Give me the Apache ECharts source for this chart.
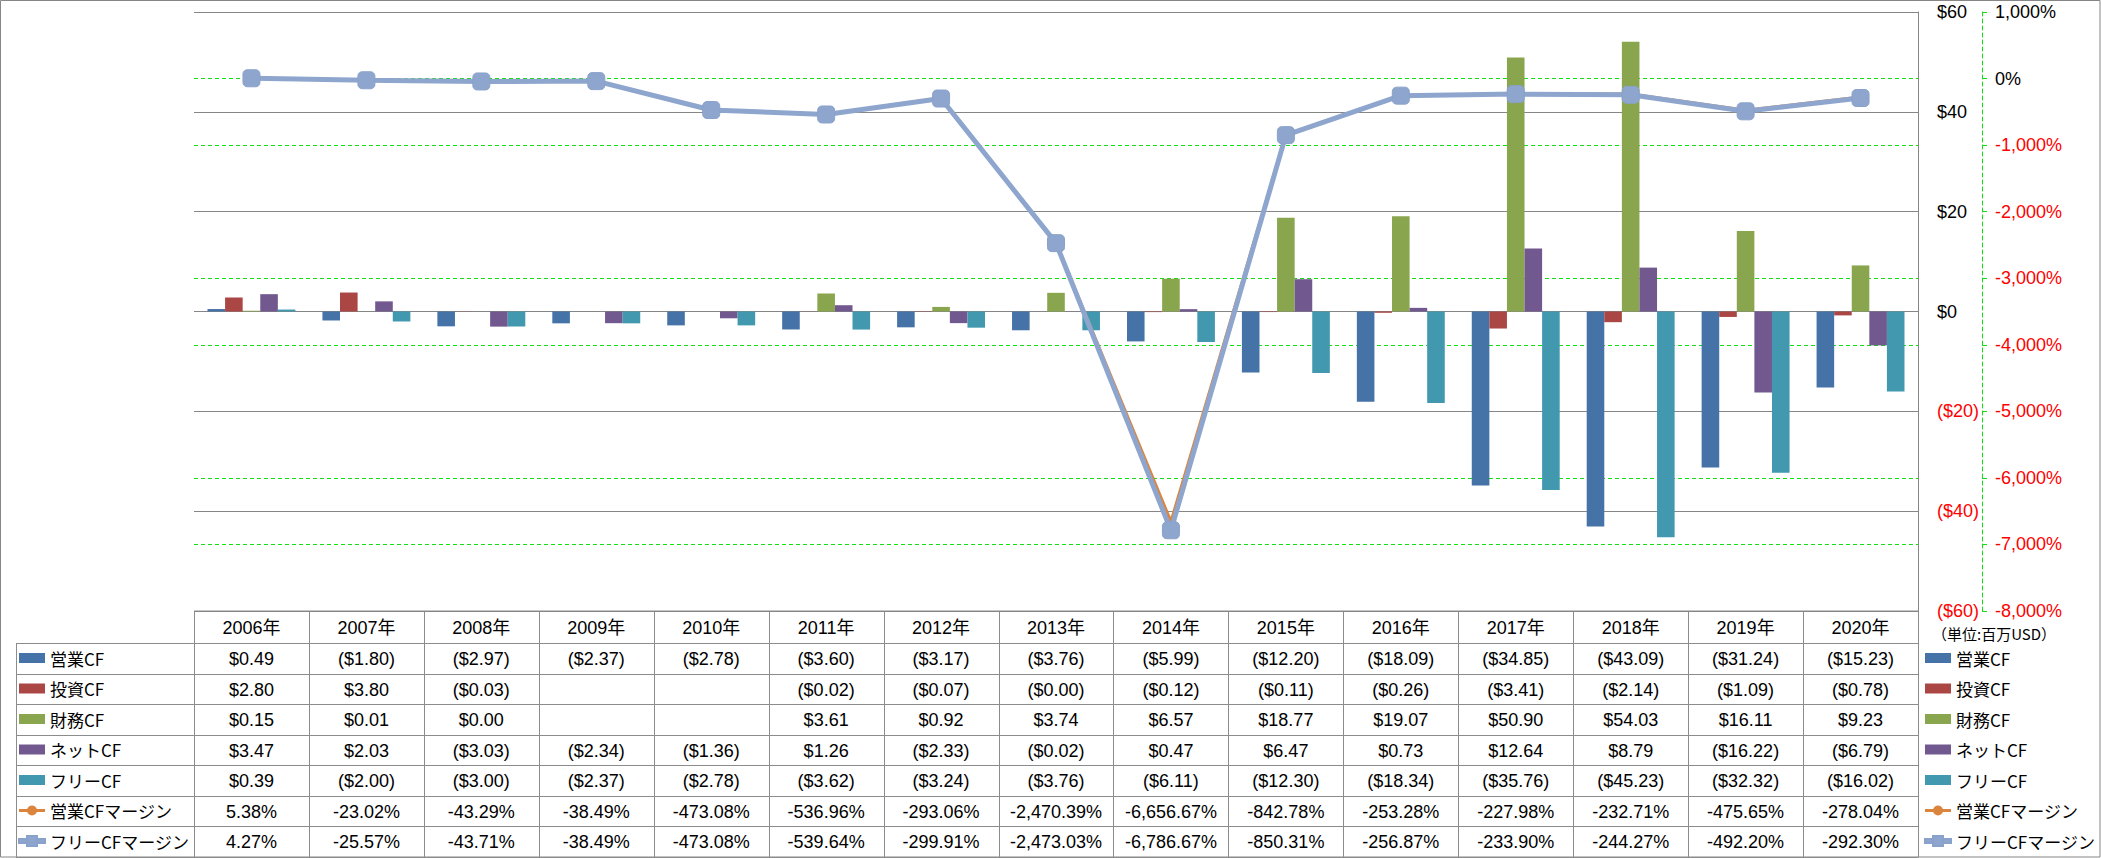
<!DOCTYPE html>
<html><head><meta charset="utf-8">
<script src="https://cdn.jsdelivr.net/npm/echarts@6/dist/echarts.min.js"></script>
<style>html,body{margin:0;padding:0;background:#fff}#c{width:2101px;height:858px}</style>
</head><body><div id="c"></div>
<script>
// ---- data ----
const years = ['2006年','2007年','2008年','2009年','2010年','2011年','2012年','2013年','2014年','2015年','2016年','2017年','2018年','2019年','2020年'];
const opCF   = [0.49, -1.80, -2.97, -2.37, -2.78, -3.60, -3.17, -3.76, -5.99, -12.20, -18.09, -34.85, -43.09, -31.24, -15.23];
const invCF  = [2.80, 3.80, -0.03, null, null, -0.02, -0.07, -0.001, -0.12, -0.11, -0.26, -3.41, -2.14, -1.09, -0.78];
const finCF  = [0.15, 0.01, 0.00, null, null, 3.61, 0.92, 3.74, 6.57, 18.77, 19.07, 50.90, 54.03, 16.11, 9.23];
const netCF  = [3.47, 2.03, -3.03, -2.34, -1.36, 1.26, -2.33, -0.02, 0.47, 6.47, 0.73, 12.64, 8.79, -16.22, -6.79];
const freeCF = [0.39, -2.00, -3.00, -2.37, -2.78, -3.62, -3.24, -3.76, -6.11, -12.30, -18.34, -35.76, -45.23, -32.32, -16.02];
const opMargin   = [5.38, -23.02, -43.29, -38.49, -473.08, -536.96, -293.06, -2470.39, -6656.67, -842.78, -253.28, -227.98, -232.71, -475.65, -278.04];
const freeMargin = [4.27, -25.57, -43.71, -38.49, -473.08, -539.64, -299.91, -2473.03, -6786.67, -850.31, -256.87, -233.90, -244.27, -492.20, -292.30];
const barNames  = ['営業CF','投資CF','財務CF','ネットCF','フリーCF'];
const lineNames = ['営業CFマージン','フリーCFマージン'];
const unitLabel = '（単位:百万USD）';

// ---- styles / layout ----
const barColors = ['#4572A7','#AA4643','#89A54E','#71588F','#4198AF'];
const lineColors = ['#DB843D','#8EA6CE'];
const lineIcons = [
  'path://M0 3.5H8.5V6.5H0Z M17.5 3.5H26V6.5H17.5Z M8 5A5 5 0 1 1 18 5A5 5 0 1 1 8 5Z',
  'path://M0 3H8.5V7H0Z M17.5 3H26V7H17.5Z M8 0H18V10H8Z'
];
const gridL = 194, gridR = 1918, plotTop = 12, plotBot = 611;
const rowTop = 643, rowH = 30.5, W = 2101, H = 858;
const FONT = '"Liberation Sans", Arial, "Noto Sans CJK JP", sans-serif';
const JFONT = '"Noto Sans CJK JP", sans-serif';
const gray = '#8C8C8C', green = '#11E011';

const barData = [opCF, invCF, finCF, netCF, freeCF];
const lineData = [opMargin, freeMargin];

function fmtUSD(v){ if (v === null || v === undefined) return ''; const s = '$' + Math.abs(v).toFixed(2); return v < 0 ? '(' + s + ')' : s; }
function fmtPct(v){ return v.toLocaleString('en-US',{minimumFractionDigits:2, maximumFractionDigits:2}) + '%'; }

const chart = echarts.init(document.getElementById('c'), null, {renderer:'svg'});

// table graphics
const n = years.length;
const colW = (gridR - gridL) / n;
const g = [];
const lineStyle = {stroke: gray, lineWidth: 1};
g.push({type:'rect', shape:{x:0.5,y:0.5,width:W-1.5,height:H-1.5}, style:{fill:'none', stroke:'#868686', lineWidth:1}, silent:true});
g.push({type:'line', shape:{x1:gridL,y1:plotBot,x2:gridR,y2:plotBot}, style:lineStyle, silent:true});
const nRows = barNames.length + lineNames.length;
for (let r = 0; r <= nRows; r++) {
  const y = Math.round(rowTop + r*rowH) + 0.5;
  g.push({type:'line', shape:{x1:16,y1:y,x2:gridR,y2:y}, style:lineStyle, silent:true});
}
const tableBot = Math.round(rowTop + nRows*rowH) + 0.5;
g.push({type:'line', shape:{x1:16.5,y1:rowTop,x2:16.5,y2:tableBot}, style:lineStyle, silent:true});
for (let c = 0; c <= n; c++) {
  const x = Math.round(gridL + c*colW) + 0.5;
  g.push({type:'line', shape:{x1:x,y1:plotBot,x2:x,y2:tableBot}, style:lineStyle, silent:true});
}
function txt(x, y, t, font, align){
  return {type:'text', x:x, y:y, silent:true, z:10,
    style:{text:t, font:font, fill:'#000', textAlign:align||'center', textVerticalAlign:'middle', align:align||'center', verticalAlign:'middle'}};
}
years.forEach((yr, i) => g.push(txt(gridL + (i+0.5)*colW, (plotBot + rowTop)/2 + 1, yr, '18px ' + FONT)));
const rows = barData.map(a => a.map(fmtUSD)).concat(lineData.map(a => a.map(fmtPct)));
rows.forEach((row, r) => {
  row.forEach((t, i) => { if (t) g.push(txt(gridL + (i+0.5)*colW, rowTop + (r+0.5)*rowH + 1, t, '18px ' + FONT)); });
});
g.push(txt(1932, 633, unitLabel, '15px ' + JFONT, 'left'));

const legendData = barNames.map(nm => ({name:nm, icon:'rect'}))
  .concat(lineNames.map((nm, i) => ({name:nm, icon:lineIcons[i], itemStyle:{color:lineColors[i]}})));
const legendBase = {orient:'vertical', top: rowTop, itemWidth:26, itemHeight:10, itemGap:0.5, padding:0,
  selectedMode:false, data:legendData,
  textStyle:{fontSize:17, fontFamily:JFONT, color:'#000', lineHeight:30}};

const series = [];
barNames.forEach((nm, i) => series.push({
  name:nm, type:'bar', yAxisIndex:0, data:barData[i], barGap:'0%', barCategoryGap:'23.5%',
  itemStyle:{color:barColors[i]}, emphasis:{disabled:true}
}));
series.push({name:lineNames[0], type:'line', yAxisIndex:1, data:opMargin, symbol:'circle', symbolSize:10,
  lineStyle:{color:lineColors[0], width:3}, itemStyle:{color:lineColors[0]}, z:3, emphasis:{disabled:true}});
series.push({name:lineNames[1], type:'line', yAxisIndex:1, data:freeMargin, symbol:'roundRect', symbolSize:17,
  lineStyle:{color:lineColors[1], width:5}, itemStyle:{color:lineColors[1], borderColor:'#8AA2CB', borderWidth:1}, z:4, emphasis:{disabled:true}});

chart.setOption({
  animation:false,
  backgroundColor:'#fff',
  grid:{left:gridL, right:W-gridR, top:plotTop, bottom:H-plotBot, containLabel:false},
  legend:[Object.assign({left:18}, legendBase), Object.assign({left:1924}, legendBase)],
  xAxis:{type:'category', data:years, axisLine:{show:false}, axisTick:{show:false}, axisLabel:{show:false}, splitLine:{show:false}},
  yAxis:[
    {type:'value', position:'right', min:-60, max:60, interval:20, z:2,
     axisLine:{show:true, lineStyle:{color:'#868686', width:1}}, axisTick:{show:false},
     splitLine:{show:true, lineStyle:{color:'#868686', width:1}},
     axisLabel:{margin:19, align:'left', formatter: v => v < 0 ? '{n|($' + (-v) + ')}' : '{p|$' + v + '}',
       rich:{p:{color:'#000', fontSize:18, fontFamily:FONT}, n:{color:'#FF0000', fontSize:18, fontFamily:FONT}}}},
    {type:'value', position:'right', offset:64, min:-8000, max:1000, interval:1000, z:0,
     axisLine:{show:true, lineStyle:{color:green, type:[4,3], width:1}},
     axisTick:{show:true, inside:false, length:5, lineStyle:{color:green}},
     splitLine:{show:true, lineStyle:{color:green, type:[4,3], width:1}},
     axisLabel:{margin:13, align:'left', formatter: v => { const s = v.toLocaleString('en-US') + '%'; return v < 0 ? '{n|' + s + '}' : '{p|' + s + '}'; },
       rich:{p:{color:'#000', fontSize:18, fontFamily:FONT}, n:{color:'#FF0000', fontSize:18, fontFamily:FONT}}}}
  ],
  series:series,
  graphic:g
});
</script></body></html>
